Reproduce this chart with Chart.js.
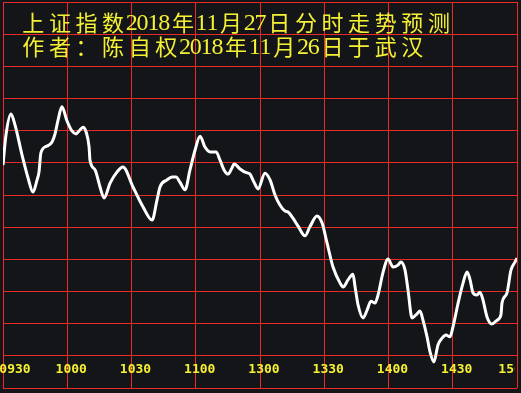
<!DOCTYPE html>
<html>
<head>
<meta charset="utf-8">
<script src="https://cdn.jsdelivr.net/npm/chart.js@4"></script>
<style>
  body { margin: 0; background: #141518; }
  #wrap { width: 521px; height: 393px; }
</style>
</head>
<body>
<div id="wrap"><canvas id="trendChart"></canvas></div>
<script>
// title lines
const titleLines = ['上证指数2018年11月27日分时走势预测', '作者：陈自权2018年11月26日于武汉'];

// x tick labels, one every 30 minutes from 09:30
const timeLabels = ['0930', '1000', '1030', '1100', '1300', '1330', '1400', '1430', '1500'];

// forecast line: minutes after the open, level in grid units
const minutes = [0, 1.4, 3.7, 5.6, 8.9, 11.7, 14.0, 15.9, 16.8, 17.7, 20.5, 22.9, 24.3, 25.7, 27.5,
  29.9, 32.2, 34.1, 35.5, 37.4, 38.8, 40.2, 40.6, 43.0, 45.3, 47.2, 50.0, 53.2, 56.0, 60.7,
  65.4, 69.6, 71.9, 73.3, 76.6, 78.9, 80.8, 82.6, 85.0, 87.3, 89.7, 92.0, 94.3, 96.7, 99.5,
  101.3, 103.2, 105.1, 106.9, 107.9, 110.7, 113.0, 115.3, 117.2, 119.1, 122.3, 124.7, 127.0,
  129.3, 131.7, 133.1, 135.4, 137.7, 141.0, 143.3, 146.6, 149.0, 151.3, 154.1, 157.4, 158.8,
  161.1, 163.4, 164.4, 165.8, 168.1, 170.0, 171.8, 173.7, 175.1, 177.4, 179.8, 182.1, 184.4,
  185.8, 187.7, 189.1, 191.0, 192.8, 194.7, 196.1, 198.0, 199.4, 201.2, 203.1, 205.0, 206.8,
  208.7, 210.1, 212.5, 214.8, 216.7, 218.1, 219.5, 221.3, 222.7, 224.1, 226.0, 228.3, 230.7,
  232.5, 233.0, 235.3, 237.2, 239.1, 240];
const levels = [6.93, 7.87, 8.52, 8.18, 7.24, 6.53, 6.09, 6.47, 6.71, 7.31, 7.52, 7.65, 7.90, 8.33, 8.74,
  8.30, 7.99, 7.90, 7.99, 8.11, 7.96, 7.49, 7.09, 6.78, 6.25, 5.91, 6.37, 6.71, 6.87, 6.25,
  5.63, 5.22, 5.84, 6.25, 6.47, 6.56, 6.56, 6.40, 6.16, 6.78, 7.40, 7.83, 7.49, 7.34, 7.34,
  7.09, 6.78, 6.65, 6.84, 6.96, 6.81, 6.71, 6.65, 6.40, 6.19, 6.68, 6.47, 6.00,
  5.69, 5.50, 5.47, 5.28, 5.04, 4.73, 5.01, 5.35, 5.13, 4.51, 3.76, 3.26, 3.14,
  3.36, 3.54, 3.14, 2.58, 2.18, 2.42, 2.70, 2.64, 2.89, 3.58, 4.01, 3.76, 3.82,
  3.92, 3.67, 3.05, 2.18, 2.27, 2.39, 2.11, 1.59, 1.12, 0.81, 1.34, 1.55, 1.65,
  1.59, 1.90, 2.64, 3.26, 3.61, 3.36, 2.95, 2.89, 2.98, 2.74, 2.21, 1.99, 2.11,
  2.27, 2.64, 2.95, 3.67, 3.92, 4.04];

const yellow = '#f4f034';

// dark background, title and time labels drawn on the canvas
const overlay = {
    id: 'overlay',
    beforeDraw(chart) {
        const ctx = chart.ctx;
        ctx.save();
        ctx.fillStyle = '#141518';
        ctx.fillRect(0, 0, chart.width, chart.height);
        ctx.restore();
    },
    afterDraw(chart) {
        const ctx = chart.ctx;
        ctx.save();
        ctx.fillStyle = yellow;
        ctx.textBaseline = 'alphabetic';
        ctx.textAlign = 'center';
        titleLines.forEach((line, i) => {
            let x = 20;
            const y = 30 + i * 24;
            for (const ch of line) {
                const wide = ch.charCodeAt(0) > 255;
                const w = wide ? 26.6 : 10.8;
                ctx.font = wide ? '22px "Noto Sans CJK SC"' : '24px "Liberation Serif"';
                ctx.fillText(ch, x + w / 2, wide ? y + 1 : y);
                x += w;
            }
        });
        // time labels, clipped at the right border like the original
        const area = chart.chartArea;
        ctx.beginPath();
        ctx.rect(0, 0, area.right - 2, chart.height);
        ctx.clip();
        ctx.textBaseline = 'middle';
        ctx.font = 'bold 13px "DejaVu Sans Mono"';
        const xs = chart.scales.x;
        timeLabels.forEach((t, i) => {
            let cx = xs.getPixelForValue(i * 30) + 4;
            cx = Math.min(Math.max(cx, 15), 514);
            ctx.fillText(t, cx, 370);
        });
        ctx.restore();
    }
};

new Chart(document.getElementById('trendChart'), {
    type: 'line',
    data: {
        datasets: [{
            data: minutes.map((m, i) => ({ x: m, y: levels[i] })),
            borderColor: '#ffffff',
            borderWidth: 3,
            pointRadius: 0,
            cubicInterpolationMode: 'monotone'
        }]
    },
    options: {
        responsive: true,
        maintainAspectRatio: false,
        animation: false,
        layout: { padding: { left: 3, right: 4, top: 2, bottom: 5 } },
        plugins: { legend: { display: false }, tooltip: { enabled: false } },
        scales: {
            x: {
                type: 'linear',
                min: 0,
                max: 240,
                ticks: { display: false, stepSize: 30 },
                grid: { color: '#ea2a26', lineWidth: 1, drawTicks: false },
                border: { display: false }
            },
            y: {
                min: 0,
                max: 12,
                ticks: { display: false, stepSize: 1 },
                grid: { color: '#ea2a26', lineWidth: 1, drawTicks: false },
                border: { display: false }
            }
        }
    },
    plugins: [overlay]
});
</script>
</body>
</html>
